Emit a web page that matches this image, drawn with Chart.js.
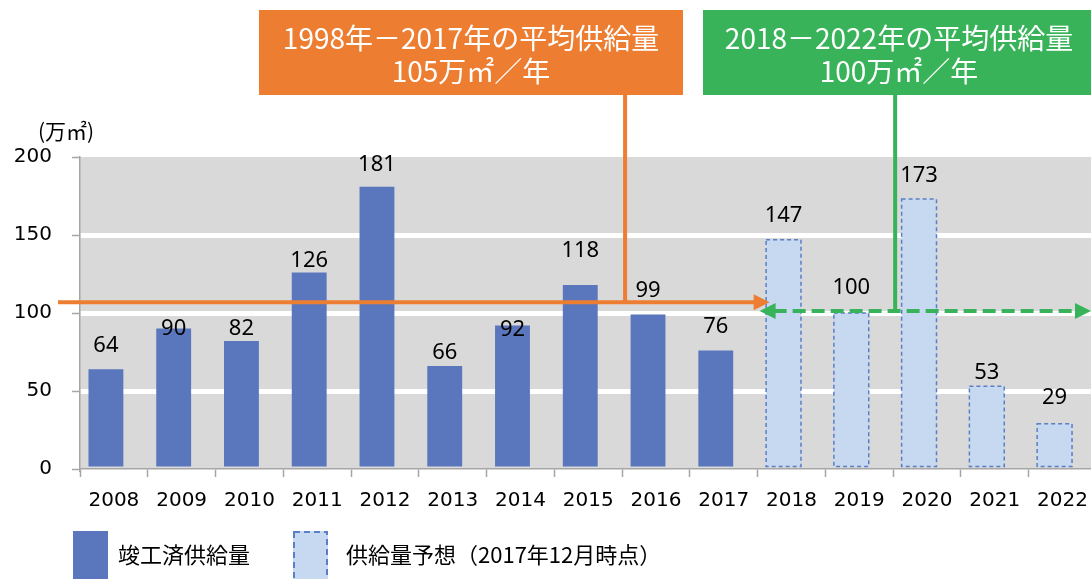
<!DOCTYPE html>
<html>
<head>
<meta charset="utf-8">
<script src="https://cdn.jsdelivr.net/npm/chart.js@4"></script>
<style>
  html, body { margin: 0; padding: 0; background: #fff; overflow: hidden; }
  #wrap { width: 1091px; height: 579px; overflow: hidden; }
</style>
</head>
<body>
<div id="wrap"><canvas id="supplyChart" width="1100" height="579"></canvas></div>
<script>
const years = ['2008', '2009', '2010', '2011', '2012', '2013', '2014', '2015', '2016', '2017', '2018', '2019', '2020', '2021', '2022'];
const completed = [64, 90, 82, 126, 181, 66, 92, 118, 99, 76, null, null, null, null, null];
const forecast = [null, null, null, null, null, null, null, null, null, null, 147, 100, 173, 53, 29];
const padding = years.map(() => null); // empty slot so bars sit left of the category centre
const avgPast = 105;
const avgFuture = 100;
const yTicks = [0, 50, 100, 150, 200];

const seriesNames = ['竣工済供給量', '供給量予想（2017年12月時点）'];
const boxPast = ['1998年－2017年の平均供給量', '105万㎡／年'];
const boxFuture = ['2018－2022年の平均供給量', '100万㎡／年'];

// how far each value label sits above its bar (px), as placed in the original
const labelLift = [23, 0, 12, 12, 22, 13, -4, 34, 24, 24, 24, 25, 23, 14, 26];

const BLUE = '#5a77bd';
const LIGHT = '#c6d9f1';
const DASH = '#5b7fc6';
const ORANGE = '#ed7d31';
const GREEN = '#39b35a';
const AXIS = '#a6a6a6';
const CJK = '"Noto Sans CJK JP", sans-serif';

function arrowHead(ctx, tipX, y, dir, len, half) {
    ctx.beginPath();
    ctx.moveTo(tipX, y);
    ctx.lineTo(tipX - dir * len, y - half);
    ctx.lineTo(tipX - dir * len, y + half);
    ctx.closePath();
    ctx.fill();
}

const overlay = {
    id: 'overlay',
    beforeDraw(chart) {
        const { ctx, chartArea: a } = chart;
        ctx.save();
        ctx.fillStyle = '#d9d9d9';
        ctx.fillRect(a.left, a.top, a.right - a.left, a.bottom - a.top);
        ctx.restore();
    },
    afterDatasetsDraw(chart) {
        const ctx = chart.ctx;
        const xs = chart.scales.x, ys = chart.scales.y;
        const half = (xs.getPixelForValue(1) - xs.getPixelForValue(0)) / 2;

        // dashed outline of the forecast bars
        ctx.save();
        ctx.setLineDash([4, 3]);
        ctx.lineWidth = 1.5;
        ctx.strokeStyle = DASH;
        chart.getDatasetMeta(1).data.forEach((bar, i) => {
            if (forecast[i] == null) return;
            const p = bar.getProps(['x', 'y', 'base', 'width'], true);
            ctx.strokeRect(p.x - p.width / 2, p.y, p.width, p.base - p.y);
        });
        ctx.restore();

        // orange average arrow (past)
        const yPast = ys.getPixelForValue(avgPast) - 3;
        const tipPast = xs.getPixelForValue(10) - half + 12;
        const vPast = xs.getPixelForValue(8) - half + 3;
        ctx.save();
        ctx.strokeStyle = ORANGE;
        ctx.fillStyle = ORANGE;
        ctx.lineWidth = 4;
        ctx.beginPath();
        ctx.moveTo(58, yPast);
        ctx.lineTo(tipPast - 14, yPast);
        ctx.moveTo(vPast, 95);
        ctx.lineTo(vPast, yPast);
        ctx.stroke();
        arrowHead(ctx, tipPast, yPast, 1, 16, 8);
        ctx.restore();

        // green average arrow (forecast)
        const yFut = ys.getPixelForValue(avgFuture) - 2;
        const leftTip = xs.getPixelForValue(10) - half + 2;
        const rightTip = 1091;
        const vFut = xs.getPixelForValue(12) - half + 2;
        ctx.save();
        ctx.strokeStyle = GREEN;
        ctx.fillStyle = GREEN;
        ctx.lineWidth = 4;
        ctx.beginPath();
        ctx.moveTo(vFut, 95);
        ctx.lineTo(vFut, yFut);
        ctx.stroke();
        ctx.setLineDash([13, 6]);
        ctx.beginPath();
        ctx.moveTo(leftTip + 14, yFut);
        ctx.lineTo(rightTip - 14, yFut);
        ctx.stroke();
        ctx.setLineDash([]);
        arrowHead(ctx, leftTip, yFut, -1, 16, 8);
        arrowHead(ctx, rightTip, yFut, 1, 16, 8);
        ctx.restore();

        // value labels
        ctx.save();
        ctx.font = '22px "Noto Sans", sans-serif';
        ctx.fillStyle = '#000';
        ctx.textAlign = 'center';
        ctx.textBaseline = 'middle';
        [0, 1].forEach(d => {
            const values = d === 0 ? completed : forecast;
            chart.getDatasetMeta(d).data.forEach((bar, i) => {
                if (values[i] == null) return;
                ctx.fillText(String(values[i]), bar.x, bar.y - labelLift[i]);
            });
        });
        ctx.restore();
    },
    afterDraw(chart) {
        const ctx = chart.ctx;
        ctx.save();
        // annotation boxes
        ctx.fillStyle = ORANGE;
        ctx.fillRect(259, 10, 424, 85);
        ctx.fillStyle = GREEN;
        ctx.fillRect(703, 10, 400, 85);
        ctx.fillStyle = '#fff';
        ctx.font = '28px ' + CJK;
        ctx.textAlign = 'center';
        ctx.textBaseline = 'middle';
        ctx.fillText(boxPast[0], 471, 38);
        ctx.fillText(boxPast[1], 471, 71);
        ctx.fillText(boxFuture[0], 899, 38);
        ctx.fillText(boxFuture[1], 899, 71);

        // unit label
        ctx.fillStyle = '#000';
        ctx.font = '21px ' + CJK;
        ctx.textAlign = 'left';
        ctx.fillText('(万㎡)', 38, 131);

        // legend
        ctx.fillStyle = BLUE;
        ctx.fillRect(73, 531, 35, 50);
        ctx.fillStyle = LIGHT;
        ctx.fillRect(293, 531, 35, 50);
        ctx.setLineDash([6, 4]);
        ctx.lineWidth = 2;
        ctx.strokeStyle = DASH;
        ctx.strokeRect(294, 532, 33, 50);
        ctx.setLineDash([]);
        ctx.fillStyle = '#000';
        ctx.font = '22px ' + CJK;
        ctx.fillText(seriesNames[0], 118, 555);
        ctx.fillText(seriesNames[1], 346, 555);
        ctx.restore();
    }
};

const ctx = document.getElementById('supplyChart').getContext('2d');
const supplyChart = new Chart(ctx, {
    type: 'bar',
    data: {
        labels: years,
        datasets: [{
            label: seriesNames[0],
            data: completed,
            backgroundColor: BLUE,
            stack: 'supply'
        }, {
            label: seriesNames[1],
            data: forecast,
            backgroundColor: LIGHT,
            borderWidth: 0,
            stack: 'supply'
        }, {
            label: '',
            data: padding,
            stack: 'pad'
        }]
    },
    options: {
        responsive: false,
        animation: false,
        categoryPercentage: 0.47,
        barPercentage: 2.19,
        layout: { padding: { top: 157, left: 0, right: 0, bottom: 0 } },
        plugins: {
            legend: { display: false },
            tooltip: { enabled: false }
        },
        scales: {
            x: {
                stacked: true,
                grid: {
                    drawOnChartArea: false,
                    tickLength: 8,
                    tickColor: AXIS,
                    tickWidth: 1.5
                },
                border: { color: AXIS, width: 1.5 },
                ticks: {
                    color: '#000',
                    padding: 12,
                    font: { family: '"DejaVu Sans"', size: 20 }
                },
                afterFit: s => { s.height = 110; }
            },
            y: {
                stacked: true,
                min: 0,
                max: 200,
                afterBuildTicks: s => { s.ticks = yTicks.map(v => ({ value: v })); },
                grid: {
                    color: c => (c.tick && c.tick.value > 0 && c.tick.value < 200) ? '#fff' : 'rgba(0,0,0,0)',
                    lineWidth: 5,
                    tickLength: 8,
                    tickColor: AXIS,
                    tickWidth: 1.5
                },
                border: { color: AXIS, width: 1.5 },
                ticks: {
                    color: '#000',
                    padding: 20,
                    font: { family: '"DejaVu Sans"', size: 20 }
                },
                afterFit: s => { s.width = 80; }
            }
        }
    },
    plugins: [overlay]
});
</script>
</body>
</html>
